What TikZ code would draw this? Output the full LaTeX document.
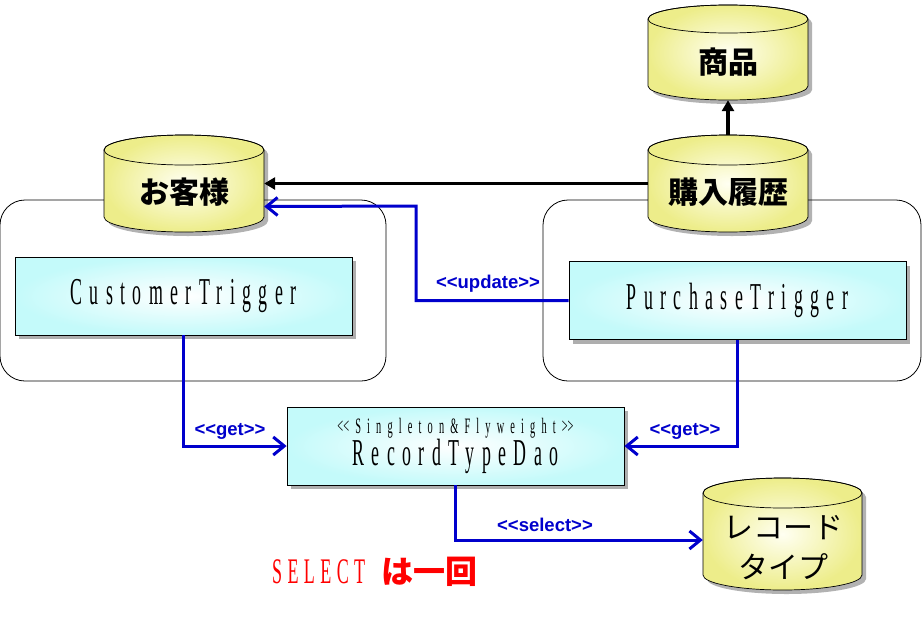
\documentclass[tikz,border=0pt]{standalone}
\usepackage{fontspec}
\usetikzlibrary{arrows.meta,shadows,calc}
\setmainfont{Liberation Serif}
\newfontfamily\jp{Noto Sans CJK JP}
\newfontfamily\boxfont[FakeStretch=0.47,LetterSpace=19.5]{Liberation Serif}
\newfontfamily\stfont[FakeStretch=0.47,LetterSpace=28]{Liberation Serif}
\newfontfamily\selfont[FakeStretch=0.5,LetterSpace=15]{Liberation Serif}
\newfontfamily\lblfont{Liberation Sans}
\definecolor{cylfill}{HTML}{EDED8A}
\definecolor{cylin}{HTML}{FFFFF2}
\definecolor{boxfill}{HTML}{C4FAFA}
\definecolor{arrblue}{HTML}{0000CC}
\definecolor{selred}{HTML}{FF0000}
\tikzset{
  container/.style={draw=black, line width=0.8pt, rounded corners=25pt, inner sep=0pt},
  classbox/.style={draw=black, line width=0.8pt, inner color=white, outer color=boxfill,
    inner sep=0pt, align=center, minimum width=337pt, minimum height=78pt,
    drop shadow={shadow xshift=4pt, shadow yshift=-4pt, opacity=0.45, fill=black!70}},
  blk/.style={line width=3.8pt, -{Triangle[length=11pt,width=12pt]}},
  blu/.style={draw=arrblue, line width=3pt, -{Straight Barb[length=11pt,width=18pt,line width=3pt]}},
  lbl/.style={text=arrblue, font=\lblfont\bfseries\fontsize{18.5}{20}\selectfont, inner sep=0pt},
  cyltext/.style={font=\jp\bfseries\fontsize{30}{32}\selectfont, inner sep=0pt},
}
\newcommand{\dbcyl}[6]{%
  \pgfmathsetmacro{\cxx}{(#2+#4)/2}%
  \pgfmathsetmacro{\rxx}{(#4-#2)/2}%
  \pgfmathsetmacro{\cyt}{#3+#6}%
  \pgfmathsetmacro{\cyb}{#5-#6}%
  \pgfmathsetmacro{\cyy}{(#3+#5)/2}%
  \pgfmathsetmacro{\hh}{#5-#3}%
  \pgfmathsetmacro{\ww}{#4-#2}%
  \fill[black,opacity=0.3] ({#2+4},{\cyt+4}) -- ({#2+4},{\cyb+4}) arc[start angle=180,end angle=0,x radius=\rxx,y radius=#6] -- ({#4+4},{\cyt+4}) arc[start angle=0,end angle=-180,x radius=\rxx,y radius=#6] -- cycle;
  \path[inner color=cylin, outer color=cylfill, draw=black, line width=0.7pt] (#2,\cyt) -- (#2,\cyb) arc[start angle=180,end angle=0,x radius=\rxx,y radius=#6] -- (#4,\cyt) arc[start angle=0,end angle=-180,x radius=\rxx,y radius=#6] -- cycle;
  \draw[line width=0.7pt] (\cxx,\cyt) ellipse[x radius=\rxx, y radius=#6];
  \node[minimum width=\ww pt, minimum height=\hh pt, inner sep=0pt] (#1) at (\cxx,\cyy) {};
}
\begin{document}
\begin{tikzpicture}[x=1pt,y=-1pt]
\useasboundingbox[fill=white] (0,0) rectangle (923,619);
% containers
\node[container, minimum width=386pt, minimum height=181pt] (lc) at (193,290.5) {};
\node[container, minimum width=378pt, minimum height=181pt] (rc) at (732,290.5) {};
% cylinders
\dbcyl{ok}{104}{135}{264}{232}{15}
\dbcyl{sh}{648}{5}{808}{100}{14}
\dbcyl{kr}{648}{135}{808}{232}{15}
\dbcyl{rec}{703}{478}{862}{590}{15}
\node[cyltext] (okt) at (184,192) {お客様};
\node[cyltext] (sht) at (728,62) {商品};
\node[cyltext] (krt) at (728,192) {購入履歴};
\node[font=\jp\fontsize{30}{40}\selectfont, inner sep=0pt, align=center] (rect) at (783,548) {レコード\\タイプ};
% class boxes
\node[classbox] (ct) at (183.5,296) {\boxfont\fontsize{38}{40}\selectfont CustomerTrigger};
\node[classbox] (pt) at (737.5,300.5) {\boxfont\fontsize{38}{40}\selectfont PurchaseTrigger};
\node[classbox] (rtd) at (455.5,446) {{\stfont\fontsize{22}{24}\selectfont <\kern0pt<Singleton\&Flyweight>\kern0pt>}\\[0pt]{\boxfont\fontsize{38}{40}\selectfont RecordTypeDao}};
% black arrows
\draw[blk] (kr.west) -- (ok.east);
\draw[blk] (kr.north) -- (sh.south);
% blue arrows
\coordinate (ubend) at (416,206);
\draw[blu] (pt.west) -| (ubend) -- ([yshift=-23pt]ok.east);
\draw[blu] (ct.south) |- (rtd.west);
\draw[blu] (pt.south) |- (rtd.east);
\draw[blu] (rtd.south) |- ([yshift=-6pt]rec.west);
% labels
\node[lbl] (lup) at (488,284) {<\kern0pt<update>\kern0pt>};
\node[lbl] (lg1) at (230,431) {<\kern0pt<get>\kern0pt>};
\node[lbl] (lg2) at (685,431) {<\kern0pt<get>\kern0pt>};
\node[lbl] (lsel) at (545,525) {<\kern0pt<select>\kern0pt>};
\node[text=selred, inner sep=0pt, anchor=west] (note) at (272,572) {{\selfont\fontsize{36}{38}\selectfont SELECT}\hspace{16pt}{\jp\bfseries\fontsize{32}{34}\selectfont は一回}};
\end{tikzpicture}
\end{document}
